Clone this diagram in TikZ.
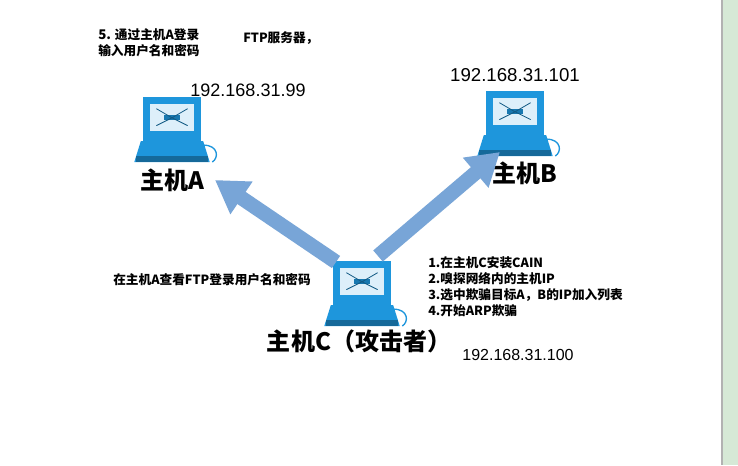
\documentclass[tikz,border=0pt]{standalone}
\usepackage{fontspec}
\setmainfont{Liberation Sans}
\newfontfamily\cjk{Noto Sans CJK SC}
\usetikzlibrary{arrows.meta,positioning}
\definecolor{pcblue}{RGB}{30,150,220}
\definecolor{arrowblue}{RGB}{120,165,215}
\tikzset{
  note/.style={font=\cjk\bfseries\fontsize{9.5pt}{12pt}\selectfont, anchor=west, inner sep=0pt, align=left},
  hostlabel/.style={font=\cjk\bfseries\fontsize{18pt}{20pt}\selectfont, inner sep=0pt},
  ip/.style={font=\fontsize{13.5pt}{15pt}\selectfont, inner sep=0pt},
  link/.style={draw=arrowblue, line width=11pt, -{Triangle[width=28pt,length=24pt]}},
}
% one computer icon, centred at #1, named #2
\newcommand{\pcicon}[2]{%
  \begin{scope}[shift={#1}, scale=1.3]
    \fill[pcblue] (-22,-30) rectangle (22,4);
    \fill[white!85!pcblue] (-17,-25) rectangle (17,-4);
    \fill[pcblue!80!black] (-6,-16) rectangle (6,-12);
    \draw[pcblue!60!black, line width=0.6pt] (-12,-21) -- (0,-14) -- (12,-21) (-12,-8) -- (0,-14) -- (12,-8);
    \fill[pcblue] (-24,4) -- (24,4) -- (29,20) -- (-29,20) -- cycle;
    \fill[pcblue!70!black] (-28,15) rectangle (28,20);
    \draw[pcblue, line width=1pt] (24,7) .. controls (36,7) and (36,17) .. (31,20);
    \coordinate (#2) at (0,0);
  \end{scope}}
\begin{document}
\begin{tikzpicture}[x=0.75pt,y=-0.75pt]
\useasboundingbox (0,0) rectangle (738,465);
\fill[white] (0,0) rectangle (738,465);
\fill[green!30!gray!25] (722,0) rectangle (738,465);
\fill[gray!60] (721,0) rectangle (722.5,465);

\pcicon{(172,136)}{pcA}
\pcicon{(515,130)}{pcB}
\pcicon{(362,300)}{pcC}

\node[hostlabel] (hostA) at (172,180) {主机A};
\node[hostlabel] (hostB) at (525,173) {主机B};
\node[hostlabel] (hostC) at (359,341) {主机C（攻击者）};

\node[ip] (ipA) at (248,90) {192.168.31.99};
\node[ip, font=\fontsize{14pt}{16pt}\selectfont] (ipB) at (515,75) {192.168.31.101};
\node[ip, font=\fontsize{12pt}{14pt}\selectfont] (ipC) at (518,355) {192.168.31.100};

\coordinate (startA) at (336,262);
\coordinate (endA) at (215,180);
\coordinate (startB) at (378,256);
\coordinate (endB) at (500,152);
\draw[link] (startA) -- (endA);
\draw[link] (startB) -- (endB);

\node[note] (login) at (98,43) {{\fontsize{10pt}{10pt}\selectfont 5.} 通过主机A登录\\输入用户名和密码};
\node[note] (ftp) at (243,38) {FTP服务器，};
\node[note] (view) at (113,280) {在主机A查看FTP登录用户名和密码};
\node[note, align=left, font=\cjk\bfseries\fontsize{9.5pt}{12pt}\selectfont] (steps) at (428,287)
  {1.在主机C安装CAIN\\2.嗅探网络内的主机IP\\3.选中欺骗目标A，B的IP加入列表\\4.开始ARP欺骗};
\end{tikzpicture}
\end{document}
